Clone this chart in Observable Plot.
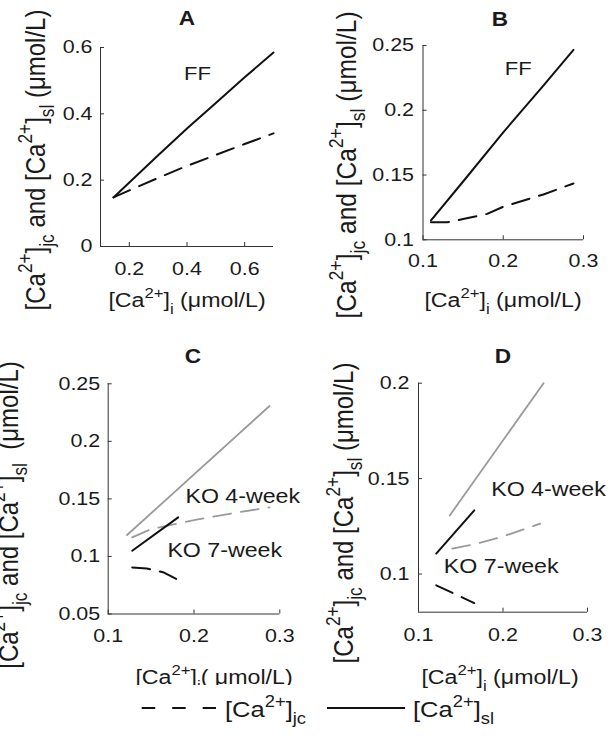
<!DOCTYPE html>
<html><head><meta charset="utf-8">
<script src="https://cdn.jsdelivr.net/npm/d3@7"></script>
<script src="https://cdn.jsdelivr.net/npm/@observablehq/plot@0.6"></script>
<style>
html,body{margin:0;padding:0;background:#fff;}
#wrap{position:relative;width:612px;height:742px;overflow:hidden;background:#fff;}
#wrap svg{position:absolute;left:0;top:0;}
</style></head><body><div id="wrap"></div>
<script>
// ---------- data ----------
// Panel A (FF)
const aX  = [0.145, 0.2, 0.3, 0.4, 0.5, 0.6, 0.7];
const aSl = [0.148, 0.193, 0.275, 0.356, 0.433, 0.51, 0.585];
const aJc = [0.148, 0.169, 0.207, 0.243, 0.276, 0.309, 0.341];
const aXTicks = [0.2, 0.4, 0.6];
const aYTicks = [0, 0.2, 0.4, 0.6];

// Panel B (FF)
const bXsl = [0.11, 0.15, 0.2, 0.25, 0.2875];
const bSl  = [0.115, 0.145, 0.183, 0.219, 0.2466];
const bXjc = [0.11, 0.13, 0.15, 0.18, 0.2, 0.25, 0.2875];
const bJc  = [0.1135, 0.1135, 0.116, 0.120, 0.1255, 0.135, 0.1435];
const bXTicks = [0.1, 0.2, 0.3];
const bYTicks = [0.1, 0.15, 0.2, 0.25];

// Panel C (KO 4-week grey, KO 7-week black)
const c4Xsl = [0.122, 0.288];
const c4Sl  = [0.1186, 0.2307];
const c4Xjc = [0.128, 0.15, 0.2, 0.25, 0.288];
const c4Jc  = [0.1166, 0.1238, 0.1316, 0.1382, 0.1426];
const c7Xsl = [0.128, 0.1816];
const c7Sl  = [0.105, 0.1339];
const c7Xjc = [0.128, 0.145, 0.165, 0.182];
const c7Jc  = [0.0905, 0.0895, 0.086, 0.0795];
const cXTicks = [0.1, 0.2, 0.3];
const cYTicks = [0.05, 0.1, 0.15, 0.2, 0.25];

// Panel D
const d4Xsl = [0.137, 0.248];
const d4Sl  = [0.1307, 0.2];
const d4Xjc = [0.14, 0.17, 0.2, 0.244];
const d4Jc  = [0.1133, 0.116, 0.1197, 0.1264];
const d7Xsl = [0.121, 0.166];
const d7Sl  = [0.1107, 0.1334];
const d7Xjc = [0.121, 0.166];
const d7Jc  = [0.0941, 0.0848];
const dXTicks = [0.1, 0.2, 0.3];
const dYTicks = [0.1, 0.15, 0.2];

const panelLetters = ["A", "B", "C", "D"];
const noteFF = "FF";
const note4 = "KO 4-week";
const note7 = "KO 7-week";

// ---------- helpers ----------
const FONT = "'Liberation Sans', Arial, Helvetica, sans-serif";
const S = 1.16;          // horizontal glyph stretch of the source figure
const BLACK = "#111";
const GREY = "#9a9a9a";
const DASH = "18,10";
const rows = (xs, ys) => xs.map((x, i) => ({x, y: ys[i]}));

function panel(cfg) {
  const {frame, xDomain, yDomain, xTicks, yTicks, series, notes, xPad, yPad} = cfg;
  const fw = frame.right - frame.left, fh = frame.bottom - frame.top;
  const marks = [
    Plot.ruleX([xDomain[0]], {stroke: "#333", strokeWidth: 1}),
    Plot.ruleY([yDomain[0]], {stroke: "#333", strokeWidth: 1}),
    Plot.ruleX(xTicks, {x: d => d, insetTop: fh - 4, stroke: "#333"}),
    Plot.ruleY(yTicks, {y: d => d, insetRight: fw - 4, stroke: "#333"}),
    Plot.axisX(xTicks, {tickSize: 0, tickPadding: xPad, tickFormat: d => String(d), label: null, fill: "#1a1a1a"}),
    Plot.axisY(yTicks, {tickSize: 0, tickPadding: yPad, tickFormat: d => String(d), label: null, fill: "#1a1a1a"}),
    ...series.map(s => Plot.line(rows(s.x, s.y), {
      x: "x", y: "y", stroke: s.color, strokeWidth: s.color === GREY ? 1.8 : 2,
      strokeDasharray: s.dash ? DASH : null
    })),
    ...notes.map(n => Plot.text([n.t], {
      x: n.x, y: n.y, text: d => d, textAnchor: "start", lineAnchor: "middle",
      fontSize: n.size, fill: "#1a1a1a"
    }))
  ];
  const svg = Plot.plot({
    width: 612, height: 742,
    marginLeft: frame.left, marginRight: 612 - frame.right,
    marginTop: frame.top, marginBottom: 742 - frame.bottom,
    style: {fontFamily: FONT, fontSize: "18.5px", color: "#1a1a1a", background: "transparent", overflow: "visible"},
    x: {domain: xDomain},
    y: {domain: yDomain},
    marks
  });
  // widen glyphs horizontally like the source (scale about each text's anchor)
  svg.querySelectorAll("text").forEach(t => {
    const tr = t.getAttribute("transform");
    if (tr) {
      t.setAttribute("transform", `${tr} scale(${S},1)`);
    } else {
      const x = parseFloat(t.getAttribute("x")) || 0;
      t.removeAttribute("x");
      t.setAttribute("transform", `translate(${x},0) scale(${S},1)`);
    }
  });
  return svg;
}

const wrap = document.getElementById("wrap");

wrap.appendChild(panel({
  frame: {left: 100, right: 273, top: 47, bottom: 246},
  xDomain: [0.1, 0.7], yDomain: [0, 0.6], xTicks: aXTicks, yTicks: aYTicks, xPad: 15, yPad: 8,
  series: [{x: aX, y: aSl, color: BLACK}, {x: aX, y: aJc, color: BLACK, dash: true}],
  notes: [{t: noteFF, x: 0.39, y: 0.52, size: 19}]
}));
wrap.appendChild(panel({
  frame: {left: 422.5, right: 583, top: 45, bottom: 239.3},
  xDomain: [0.1, 0.3], yDomain: [0.1, 0.25], xTicks: bXTicks, yTicks: bYTicks, xPad: 14, yPad: 9,
  series: [{x: bXsl, y: bSl, color: BLACK}, {x: bXjc, y: bJc, color: BLACK, dash: true}],
  notes: [{t: noteFF, x: 0.202, y: 0.232, size: 19}]
}));
wrap.appendChild(panel({
  frame: {left: 107.7, right: 279.3, top: 383.3, bottom: 613.5},
  xDomain: [0.1, 0.3], yDomain: [0.05, 0.25], xTicks: cXTicks, yTicks: cYTicks, xPad: 15, yPad: 8,
  series: [
    {x: c4Xsl, y: c4Sl, color: GREY}, {x: c4Xjc, y: c4Jc, color: GREY, dash: true},
    {x: c7Xsl, y: c7Sl, color: BLACK}, {x: c7Xjc, y: c7Jc, color: BLACK, dash: true}
  ],
  notes: [{t: note4, x: 0.19, y: 0.152, size: 20}, {t: note7, x: 0.169, y: 0.105, size: 20}]
}));
wrap.appendChild(panel({
  frame: {left: 418, right: 587, top: 382.7, bottom: 611.7},
  xDomain: [0.1, 0.3], yDomain: [0.08, 0.2], xTicks: dXTicks, yTicks: dYTicks, xPad: 16, yPad: 9,
  series: [
    {x: d4Xsl, y: d4Sl, color: GREY}, {x: d4Xjc, y: d4Jc, color: GREY, dash: true},
    {x: d7Xsl, y: d7Sl, color: BLACK}, {x: d7Xjc, y: d7Jc, color: BLACK, dash: true}
  ],
  notes: [{t: note4, x: 0.186, y: 0.144, size: 20}, {t: note7, x: 0.13, y: 0.104, size: 20}]
}));

// ---------- overlay: titles, axis labels, legend ----------
const ov = d3.select(wrap).append("svg").attr("width", 612).attr("height", 742)
  .attr("font-family", FONT).style("overflow", "visible");
ov.append("defs").append("clipPath").attr("id", "clipC")
  .append("rect").attr("x", 0).attr("y", 640).attr("width", 306).attr("height", 45);

function rich(parent, parts, o) {
  const t = parent.append("text").attr("font-size", o.size).attr("text-anchor", o.anchor || "middle")
    .attr("fill", "#1a1a1a").style("white-space", "pre");
  if (o.weight) t.attr("font-weight", o.weight);
  t.attr("transform", o.rotate
    ? `translate(${o.x},${o.y}) rotate(-90) scale(1,${S})`
    : `translate(${o.x},${o.y}) scale(${S},1)`);
  let shift = 0;
  for (const [s, kind] of parts) {
    const target = kind === "sup" ? -0.45 * o.size : kind === "sub" ? 0.33 * o.size : 0;
    const ts = t.append("tspan").text(s).attr("dy", target - shift);
    if (kind) ts.attr("font-size", 0.72 * o.size);
    shift = target;
  }
  return t;
}

const yLab = sp => [["[Ca"], ["2+", "sup"], ["]"], ["jc", "sub"], [" and [Ca"], ["2+", "sup"], ["]"], ["sl", "sub"], [sp + "(\u03BCmol/L)"]];
const xLab = (a, b) => [["[Ca"], ["2+", "sup"], ["]"], ["i", "sub"], [a + "(" + b + "\u03BCmol/L)"]];

// titles
[[panelLetters[0], 187, 25], [panelLetters[1], 500, 26], [panelLetters[2], 193, 363], [panelLetters[3], 503, 363]]
  .forEach(([s, x, y]) => rich(ov, [[s]], {x, y, size: 19.5, weight: "bold"}));

// y labels
rich(ov, yLab(" "), {x: 45, y: 160, size: 24, rotate: true});
rich(ov, yLab(" "), {x: 356, y: 165, size: 24.5, rotate: true});
rich(ov, yLab("  "), {x: 18, y: 515, size: 24, rotate: true});
rich(ov, yLab(" "), {x: 353, y: 513, size: 24, rotate: true});

// x labels
rich(ov, xLab(" ", ""), {x: 187, y: 307, size: 20});
rich(ov, xLab(" ", ""), {x: 503, y: 307, size: 20});
rich(ov.append("g").attr("clip-path", "url(#clipC)"), xLab("", " "), {x: 214, y: 684, size: 20});
rich(ov, xLab(" ", ""), {x: 500, y: 684, size: 20});

// legend
ov.append("line").attr("x1", 141.7).attr("x2", 216).attr("y1", 708).attr("y2", 708)
  .attr("stroke", BLACK).attr("stroke-width", 2).attr("stroke-dasharray", "13.5,17");
ov.append("line").attr("x1", 327).attr("x2", 405).attr("y1", 708).attr("y2", 708)
  .attr("stroke", BLACK).attr("stroke-width", 2);
rich(ov, [["[Ca"], ["2+", "sup"], ["]"], ["jc", "sub"]], {x: 225, y: 717, size: 22, anchor: "start"});
rich(ov, [["[Ca"], ["2+", "sup"], ["]"], ["sl", "sub"]], {x: 413, y: 717, size: 22, anchor: "start"});
</script></body></html>
